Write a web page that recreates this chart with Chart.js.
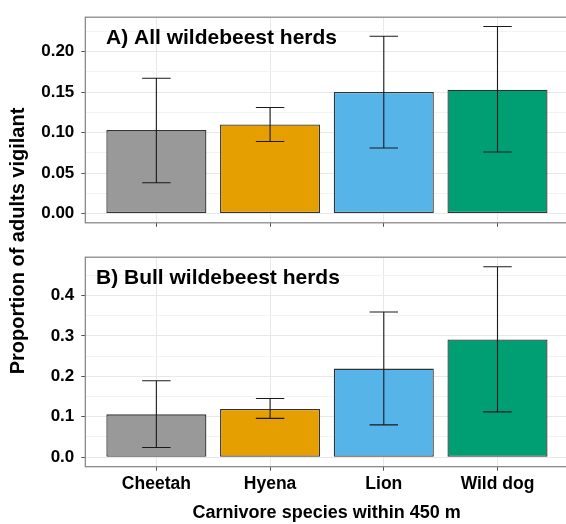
<!DOCTYPE html>
<html lang="en">
<head>
  <meta charset="UTF-8" />
  <title>Wildebeest vigilance by carnivore</title>
  <script src="https://cdn.jsdelivr.net/npm/chart.js"></script>
  <style>
    body { margin: 0; background: #fff; }
    #wrap { position: relative; width: 566px; height: 524px; overflow: hidden; }
    #wrap canvas { position: absolute; left: 0; }
    #ytitle {
      position: absolute; left: -132.5px; top: 229px; width: 300px; height: 24px;
      line-height: 24px; text-align: center; color: #000;
      font: bold 20px "Liberation Sans", Arial, sans-serif;
      transform: rotate(-90deg);
    }
  </style>
</head>
<body>
  <div id="wrap">
    <canvas id="chartA" width="568" height="240" style="top:0"></canvas>
    <canvas id="chartB" width="568" height="284" style="top:240px"></canvas>
    <div id="ytitle">Proportion of adults vigilant</div>
  </div>

  <script>
    const categories = ["Cheetah", "Hyena", "Lion", "Wild dog"];
    const barColors = ["#999999", "#E69F00", "#56B4E9", "#009E73"];

    // A) all herds
    const meanAll = [0.103, 0.110, 0.150, 0.153];
    const lowAll = [0.038, 0.089, 0.081, 0.076];
    const highAll = [0.167, 0.131, 0.219, 0.231];
    const ticksAll = [0, 0.05, 0.10, 0.15, 0.20];

    // B) bull herds
    const meanBull = [0.106, 0.119, 0.219, 0.291];
    const lowBull = [0.024, 0.096, 0.080, 0.112];
    const highBull = [0.189, 0.145, 0.359, 0.471];
    const ticksBull = [0, 0.1, 0.2, 0.3, 0.4];

    Chart.defaults.font.family = '"Liberation Sans", Arial, sans-serif';
    Chart.defaults.color = "#000";

    // error bars, drawn through the chart's own scales
    const errorBars = {
      id: "errorBars",
      afterDatasetsDraw(chart, args, opts) {
        const { ctx, scales: { x, y } } = chart;
        ctx.save();
        ctx.strokeStyle = "#1a1a1a";
        ctx.lineWidth = 1.1;
        opts.low.forEach((lo, i) => {
          const px = x.getPixelForValue(i);
          const half = x.getPixelForValue(i + 0.125) - px;
          const yl = y.getPixelForValue(lo);
          const yh = y.getPixelForValue(opts.high[i]);
          ctx.beginPath();
          ctx.moveTo(px, yl); ctx.lineTo(px, yh);
          ctx.moveTo(px - half, yl); ctx.lineTo(px + half, yl);
          ctx.moveTo(px - half, yh); ctx.lineTo(px + half, yh);
          ctx.stroke();
        });
        ctx.restore();
      }
    };

    // panel border + panel label inside the plot area
    const panelFrame = {
      id: "panelFrame",
      afterDraw(chart, args, opts) {
        const { ctx, chartArea: a } = chart;
        ctx.save();
        ctx.strokeStyle = "#808080";
        ctx.lineWidth = 1.2;
        ctx.strokeRect(a.left, a.top, a.right - a.left, a.bottom - a.top);
        ctx.fillStyle = "#000";
        ctx.font = 'bold 21px "Liberation Sans", Arial, sans-serif';
        ctx.textBaseline = "alphabetic";
        ctx.fillText(opts.text, a.left + opts.dx, a.top + 27);
        ctx.restore();
      }
    };

    function yScale(ticks, min, max, digits) {
      const step = ticks[1] - ticks[0];
      return {
        min: min, max: max,
        afterBuildTicks: s => {
          const list = [];
          ticks.forEach(v => {
            list.push({ value: v, isMinor: false });
            list.push({ value: v + step / 2, isMinor: true });
          });
          s.ticks = list.filter(t => t.value <= max);
        },
        afterFit: s => { s.width = 85.3; },
        ticks: {
          autoSkip: false, padding: 7, color: "#000",
          font: { size: 17, weight: "bold" },
          callback: (v, i, arr) => arr[i].isMinor ? "" : v.toFixed(digits)
        },
        grid: {
          color: c => c.tick && c.tick.isMinor ? "#f3f3f3" : "#e8e8e8",
          tickLength: 4,
          tickColor: c => c.tick && c.tick.isMinor ? "rgba(0,0,0,0)" : "#555"
        },
        border: { display: false }
      };
    }

    function xScale(showLabels, height) {
      return {
        type: "linear", min: -0.625, max: 3.62, offset: false,
        afterBuildTicks: s => { s.ticks = categories.map((c, i) => ({ value: i })); },
        afterFit: s => { s.height = height; },
        ticks: {
          display: showLabels, autoSkip: false, maxRotation: 0, padding: 3, color: "#000",
          font: { size: 17.5, weight: "bold" },
          callback: (v, i) => categories[i]
        },
        grid: { offset: false, color: "#e8e8e8", tickLength: 4, tickColor: "#555" },
        border: { display: false },
        title: {
          display: showLabels, text: "Carnivore species within 450 m", color: "#000",
          font: { size: 18, weight: "bold" }, padding: { top: 0, bottom: 0 }
        }
      };
    }

    function makePanel(canvasId, label, dx, means, low, high, ticks, yMin, yMax, digits, showX, xHeight, padTop) {
      return new Chart(document.getElementById(canvasId), {
        type: "bar",
        data: {
          datasets: [{
            data: categories.map((c, i) => ({ x: i, y: means[i] })),
            backgroundColor: barColors,
            borderColor: "#333",
            borderWidth: 1.3,
            borderSkipped: false,
            barPercentage: 0.88,
            categoryPercentage: 1
          }]
        },
        options: {
          responsive: false,
          animation: false,
          layout: { padding: { top: padTop, left: 0, right: 0, bottom: 0 } },
          scales: {
            x: xScale(showX, xHeight),
            y: yScale(ticks, yMin, yMax, digits)
          },
          plugins: {
            legend: { display: false },
            tooltip: { enabled: false },
            errorBars: { low: low, high: high },
            panelFrame: { text: label, dx: dx }
          }
        },
        plugins: [errorBars, panelFrame]
      });
    }

    makePanel("chartA", "A) All wildebeest herds", 20.7, meanAll, lowAll, highAll,
      ticksAll, -0.0115, 0.2425, 2, false, 12.5, 7);
    makePanel("chartB", "B) Bull wildebeest herds", 10.7, meanBull, lowBull, highBull,
      ticksBull, -0.0235, 0.4945, 1, true, 57.3, 9);
  </script>
</body>
</html>
